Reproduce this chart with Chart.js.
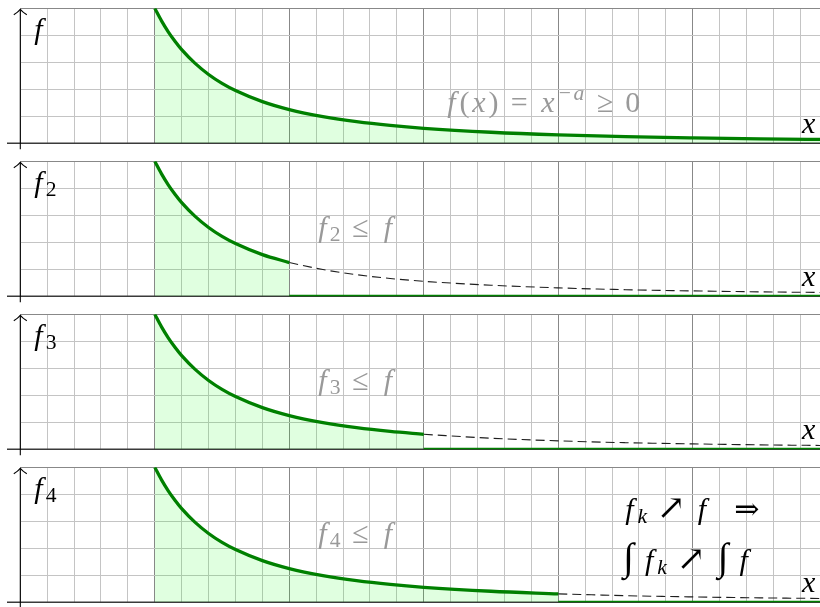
<!DOCTYPE html>
<html><head><meta charset="utf-8">
<script src="https://cdn.jsdelivr.net/npm/chart.js@4.4.1/dist/chart.umd.min.js"></script>
<style>
html,body{margin:0;padding:0;background:#fff;}
#wrap{position:relative;width:820px;height:607px;overflow:hidden;background:#fff;}
.panel{position:absolute;left:0;width:820px;height:153px;}
#txt{position:absolute;left:0;top:0;width:820px;height:607px;pointer-events:none;}
#txt span{position:absolute;line-height:1;white-space:nowrap;transform:translateX(-50%);}
</style></head><body>
<div id="wrap">
<div class="panel" style="top:0px"><canvas id="c0" width="820" height="153"></canvas></div>
<div class="panel" style="top:153px"><canvas id="c1" width="820" height="153"></canvas></div>
<div class="panel" style="top:306px"><canvas id="c2" width="820" height="153"></canvas></div>
<div class="panel" style="top:459px"><canvas id="c3" width="820" height="153"></canvas></div>
<div id="txt"></div>
</div>
<script>
// ---- data ----
const xs = [1.0, 1.05, 1.1, 1.15, 1.2, 1.3, 1.4, 1.5, 1.6, 1.8, 2.0, 2.25, 2.5, 2.75, 3.0, 3.5, 4.0, 4.5, 5.0, 5.5, 6.0];
const fx = [1.000, 0.907, 0.826, 0.756, 0.694, 0.592, 0.510, 0.444, 0.391, 0.309, 0.250, 0.198, 0.160, 0.132, 0.111, 0.082, 0.0625, 0.049, 0.040, 0.033, 0.028];
const cutoffs = [null, 2, 3, 4];          // f_k = f on [1,k], 0 afterwards
const subscripts = ['', '2', '3', '4'];
const xGridValues = [];                    // minor grid every 0.2, major every 1
for (let i = 0; i < 30; i++) xGridValues.push(i / 5);
const yGridValues = [0, 0.2, 0.4, 0.6, 0.8, 1];
const X_MAX = 5.946, Y_MAX = 1;

// ---- style ----
const F = 30;
const PANEL_H = 153;
const SERIF = '"Liberation Serif", serif';
const SYM = '"DejaVu Serif", serif';
const GREEN = '#008000';
const FILL = 'rgba(0,255,0,0.12)';
const MINOR = '#c4c4c4', MAJOR = '#888888';
const GRAYTXT = '#999999';
const txtLayer = document.getElementById('txt');

function isMajor(v){ return Math.abs(v - Math.round(v)) < 1e-6; }

// tiny typesetter: each glyph centred in a box (width in em), real DOM text
function addRun(x, y, items, color){
  let cx = x;
  for (const it of items){
    if (it.g){ cx += it.g * F; continue; }
    const sc = it.sc || 1;
    const size = F * sc * (it.big || 1);
    const w = it.w * F * sc;
    const s = document.createElement('span');
    s.textContent = it.t;
    s.style.font = (it.i ? 'italic ' : 'normal ') + size.toFixed(1) + 'px ' + (it.fam || SERIF);
    s.style.lineHeight = '1';
    s.style.color = color;
    s.style.left = (cx + w / 2 + (it.dx || 0)).toFixed(1) + 'px';
    s.style.top = (y + (it.dy || 0) * F - 0.84 * size).toFixed(1) + 'px';
    txtLayer.appendChild(s);
    cx += w;
  }
}

function fSub(s){
  const a = [{t:'f', i:1, w:0.49}];
  if (s) a.push({t:s, sc:0.72, w:0.5, dy:0.17});
  return a;
}

function makePanel(k){
  const T = cutoffs[k];
  const full = xs.map((x, i) => ({x, y: fx[i]}));
  const kept = T === null ? full : full.filter(p => p.x <= T + 1e-9);
  const rest = T === null ? [] : full.filter(p => p.x >= T - 1e-9);
  const datasets = [];
  if (T !== null){
    datasets.push({data: [{x:T, y:0}, {x:xs[xs.length-1], y:0}], borderColor: GREEN, borderWidth: 3.3,
      pointRadius: 0, fill: false, tension: 0});
  }
  datasets.push({data: kept, borderColor: GREEN, borderWidth: 3.3, backgroundColor: FILL,
    fill: 'origin', pointRadius: 0, cubicInterpolationMode: 'monotone'});
  if (T !== null){
    datasets.push({data: rest, borderColor: '#1e1e1e', borderWidth: 1.1, borderDash: [9, 5],
      fill: false, pointRadius: 0, cubicInterpolationMode: 'monotone'});
  }

  const deco = {
    id: 'deco' + k,
    beforeDatasetsDraw(chart){
      const ctx = chart.ctx, xs_ = chart.scales.x, ys_ = chart.scales.y;
      const x0 = xs_.getPixelForValue(0), yb = ys_.getPixelForValue(0), yt = ys_.getPixelForValue(Y_MAX);
      ctx.save();
      ctx.strokeStyle = '#3a3a3a'; ctx.lineWidth = 1.5;
      ctx.beginPath(); ctx.moveTo(7, yb); ctx.lineTo(chart.width, yb); ctx.stroke();
      ctx.strokeStyle = '#000'; ctx.lineWidth = 1.1;
      ctx.beginPath(); ctx.moveTo(x0, yb + 6); ctx.lineTo(x0, yt + 1); ctx.stroke();
      ctx.beginPath();
      ctx.moveTo(x0 - 6.5, yt + 6.5);
      ctx.quadraticCurveTo(x0 - 2, yt + 3.5, x0, yt + 1);
      ctx.quadraticCurveTo(x0 + 2, yt + 3.5, x0 + 6.5, yt + 6.5);
      ctx.stroke();
      ctx.restore();
    }
  };

  const chart = new Chart(document.getElementById('c' + k), {
    type: 'line',
    data: {datasets},
    options: {
      responsive: false, animation: false, events: [],
      layout: {padding: {left: 20.3, top: 8.3, right: 0, bottom: 9.7}},
      plugins: {legend: {display: false}, tooltip: {enabled: false}},
      scales: {
        x: {type: 'linear', min: 0, max: X_MAX,
          afterBuildTicks: s => { s.ticks = xGridValues.map(v => ({value: v})); },
          ticks: {display: false}, border: {display: false},
          grid: {drawTicks: false, lineWidth: 1,
            color: c => isMajor(c.tick.value) ? MAJOR : MINOR}},
        y: {type: 'linear', min: 0, max: Y_MAX,
          afterBuildTicks: s => { s.ticks = yGridValues.map(v => ({value: v})); },
          ticks: {display: false}, border: {display: false},
          grid: {drawTicks: false, lineWidth: 1,
            color: c => isMajor(c.tick.value) ? MAJOR : MINOR}}
      }
    },
    plugins: [deco]
  });

  // text annotations, positioned from the chart's own layout
  const off = PANEL_H * k;
  const top = off + chart.chartArea.top;
  const yb = off + chart.scales.y.getPixelForValue(0);
  addRun(31, top + 31, fSub(subscripts[k]), '#000');
  addRun(800, yb - 10.5, [{t:'x', i:1, w:0.572}], '#000');
  if (k === 0){
    addRun(444, top + 104, [
      {t:'f', i:1, w:0.49}, {t:'(', w:0.389}, {t:'x', i:1, w:0.572}, {t:')', w:0.389},
      {g:0.278}, {t:'=', w:0.778}, {g:0.278}, {t:'x', i:1, w:0.572},
      {t:'\u2212', sc:0.72, w:0.778, dy:-0.38}, {t:'a', i:1, sc:0.72, w:0.529, dy:-0.38},
      {g:0.3}, {t:'\u2265', w:0.778}, {g:0.278}, {t:'0', w:0.5}
    ], GRAYTXT);
  } else {
    addRun(315, top + 75.5, fSub(subscripts[k]).concat([
      {g:0.278}, {t:'\u2264', w:0.778}, {g:0.278}, {t:'f', i:1, w:0.49}
    ]), GRAYTXT);
  }
  if (k === 3){
    addRun(622, top + 52, [
      {t:'f', i:1, w:0.49}, {t:'k', i:1, sc:0.72, w:0.521, dy:0.17},
      {g:0.278}, {t:'\u2197', w:1.0, big:1.15, fam:SYM}, {g:0.278}, {t:'f', i:1, w:0.49},
      {g:0.75}, {t:'\u21D2', w:1.0, fam:SYM}
    ], '#000');
    addRun(620, top + 103, [
      {t:'\u222B', w:0.56, big:1.3, dy:-0.03}, {g:0.167}, {t:'f', i:1, w:0.49},
      {t:'k', i:1, sc:0.72, w:0.521, dy:0.17},
      {g:0.278}, {t:'\u2197', w:1.0, big:1.15, fam:SYM}, {g:0.278},
      {t:'\u222B', w:0.56, big:1.3, dy:-0.03}, {g:0.167}, {t:'f', i:1, w:0.49}
    ], '#000');
  }
}
for (let k = 0; k < 4; k++) makePanel(k);
</script>
</body></html>
